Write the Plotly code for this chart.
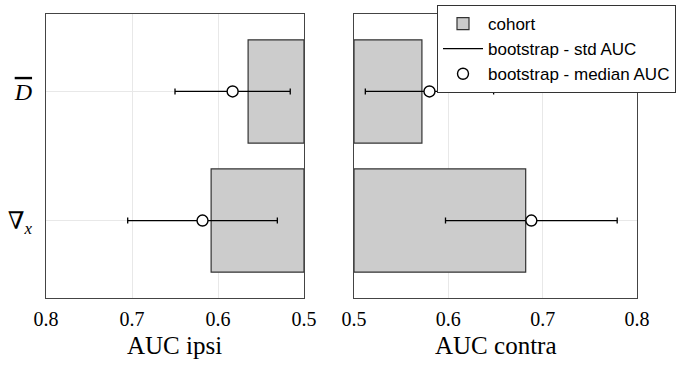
import plotly.graph_objects as go

# ---- data ----
features = ["∇x", "Dbar"]            # bottom -> top
feature_labels = ["∇<sub><i>x</i></sub>",
                  "<span style='font-style:italic;text-decoration:overline'>D</span>"]
cat_pos = [1, 2]

cohort_ipsi = [0.608, 0.565]
median_ipsi = [0.618, 0.583]
std_ipsi = [0.087, 0.067]

cohort_contra = [0.682, 0.572]
median_contra = [0.688, 0.580]
std_contra = [0.091, 0.068]

x_ticks = [0.5, 0.6, 0.7, 0.8]
x_titles = ["AUC ipsi", "AUC contra"]
base_val = 0.5

BAR_FILL = "#cccccc"
EDGE = "#333333"
GRID = "#e8e8e8"
SERIF = "Liberation Serif, DejaVu Serif, serif"
SANS = "Liberation Sans, Arial, sans-serif"

fig = go.Figure()

for i, (cohort, med, sd, xa, ya) in enumerate([
    (cohort_ipsi, median_ipsi, std_ipsi, "x", "y"),
    (cohort_contra, median_contra, std_contra, "x2", "y2"),
]):
    fig.add_trace(go.Bar(
        y=cat_pos, x=[c - base_val for c in cohort], base=base_val,
        orientation="h", width=0.8,
        marker=dict(color=BAR_FILL, line=dict(color=EDGE, width=1.2)),
        name="cohort", showlegend=(i == 1), legendrank=1,
        xaxis=xa, yaxis=ya,
    ))
    fig.add_trace(go.Scatter(
        y=cat_pos, x=med, mode="markers",
        marker=dict(symbol="circle", size=11, color="white",
                    line=dict(color="black", width=1.4)),
        error_x=dict(type="data", array=sd, visible=True, color="black",
                     thickness=1.3, width=3),
        name="bootstrap - median AUC", showlegend=(i == 1), legendrank=3,
        xaxis=xa, yaxis=ya,
    ))

# legend-only line entry
fig.add_trace(go.Scatter(
    x=[None], y=[None], mode="lines", line=dict(color="black", width=1.3),
    name="bootstrap - std AUC", showlegend=True, legendrank=2,
    xaxis="x2", yaxis="y2",
))

W, H = 684, 366
top_px, bot_px = 14, 298
ydom = [1 - bot_px / H, 1 - top_px / H]

common_x = dict(
    tickvals=x_ticks, ticktext=[f"{v:.1f}" for v in x_ticks],
    showgrid=True, gridcolor=GRID, gridwidth=1,
    zeroline=False, showline=True, linecolor="#444444", linewidth=1.3, mirror=True,
    ticks="", tickfont=dict(family=SERIF, size=20, color="black"),
    ticklabelstandoff=3, automargin=False,
)
common_y = dict(
    range=[0.4, 2.6], domain=ydom,
    tickvals=cat_pos, showgrid=True, gridcolor=GRID, gridwidth=1,
    zeroline=False, showline=True, linecolor="#444444", linewidth=1.3, mirror=True,
    ticks="", automargin=False,
)

fig.update_layout(
    width=W, height=H,
    margin=dict(l=0, r=0, t=0, b=0, autoexpand=False),
    paper_bgcolor="white", plot_bgcolor="white",
    barmode="overlay",
    xaxis=dict(common_x, domain=[46 / W, 304 / W], range=[0.8, 0.5], anchor="y"),
    xaxis2=dict(common_x, domain=[354 / W, 637 / W], range=[0.5, 0.8], anchor="y2"),
    yaxis=dict(common_y, ticktext=feature_labels, anchor="x",
               tickfont=dict(family=SERIF, size=24, color="black"), ticklabelstandoff=8),
    yaxis2=dict(common_y, showticklabels=False, anchor="x2"),
    legend=dict(
        x=437 / W, y=1 - 5 / H, xanchor="left", yanchor="top",
        bgcolor="white", bordercolor="#333333", borderwidth=1,
        font=dict(family=SANS, size=17, color="black"),
        traceorder="normal", itemwidth=40, tracegroupgap=0,
    ),
    showlegend=True,
)

for xref, title in zip(["x domain", "x2 domain"], x_titles):
    fig.add_annotation(
        text=title, xref=xref, x=0.5, yref="paper", y=1 - 331 / H,
        xanchor="center", yanchor="top", showarrow=False,
        font=dict(family=SERIF, size=25, color="black"), borderpad=0,
    )

fig.write_html("out.html")
